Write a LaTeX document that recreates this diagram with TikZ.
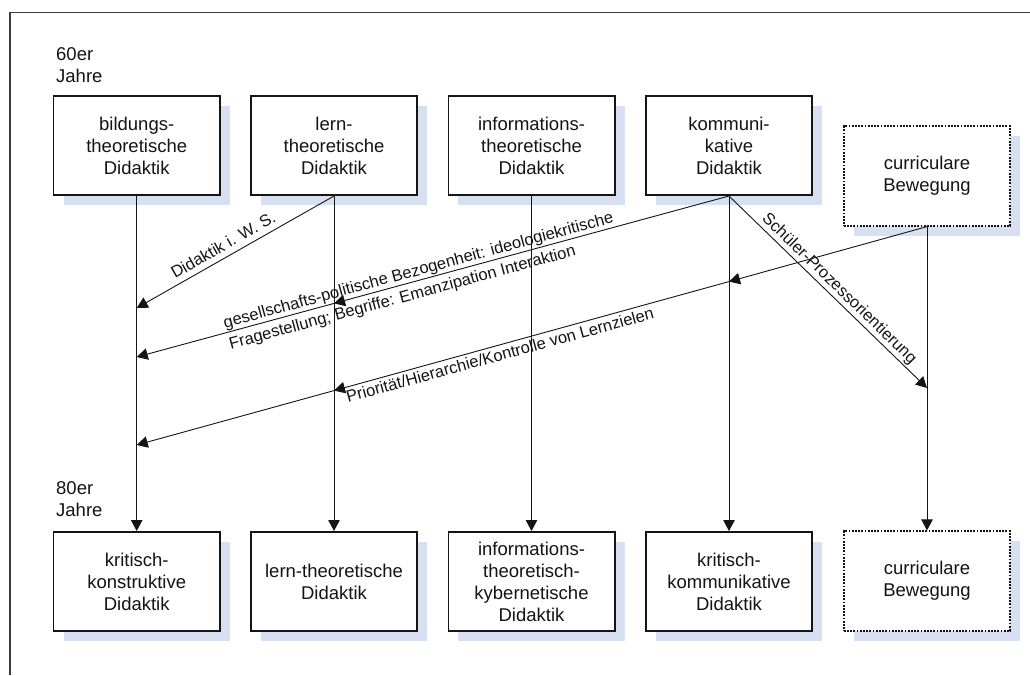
\documentclass[tikz,border=0pt]{standalone}
\usepackage{fontspec}
\setmainfont{Liberation Sans}
\usetikzlibrary{arrows.meta,shadows}
\definecolor{shadowblue}{RGB}{214,224,240}
\definecolor{framegray}{RGB}{60,60,60}
\definecolor{ink}{RGB}{20,20,20}

\begin{document}
\begin{tikzpicture}[x=1pt,y=-1pt,
  boxtext/.style={font=\fontsize{18.5}{22}\selectfont, text=ink, align=center},
  labeltext/.style={font=\fontsize{16.5}{22}\selectfont, text=ink, inner sep=0pt},
  stage/.style={boxtext, draw=ink, line width=1.6pt, fill=white,
    minimum width=166.4pt, minimum height=99.4pt, inner sep=0pt,
    general shadow={fill=shadowblue, shadow xshift=10pt, shadow yshift=-10pt}},
  openstage/.style={stage, line width=1.8pt, dash pattern=on 1.8pt off 1.4pt},
  flow/.style={draw=ink, line width=0.9pt, -{Triangle[length=11pt,width=11.5pt]}},
]
\useasboundingbox (0,0) rectangle (1030,675);

% page frame
\draw[framegray, line width=1.2pt] (1030,12.3) -- (10,12.3) -- (10,675);

% era captions
\node[boxtext, align=left, anchor=west, inner sep=0pt] (e60) at (56,65) {60er\\Jahre};
\node[boxtext, align=left, anchor=west, inner sep=0pt] (e80) at (56,499.5) {80er\\Jahre};

% approaches of the 60s
\node[stage] (b1) at (136.7,145.5) {bildungs-\\theoretische\\Didaktik};
\node[stage] (b2) at (334,145.5) {lern-\\theoretische\\Didaktik};
\node[stage] (b3) at (531.5,145.5) {informations-\\theoretische\\Didaktik};
\node[stage] (b4) at (729,145.5) {kommuni-\\kative\\Didaktik};
\node[openstage] (b5) at (927,176) {curriculare\\Bewegung};

% approaches of the 80s
\node[stage] (k1) at (136.7,581.5) {kritisch-\\konstruktive\\Didaktik};
\node[stage] (k2) at (334,581.5) {lern-theoretische\\Didaktik};
\node[stage] (k3) at (531.5,581.5) {informations-\\theoretisch-\\kybernetische\\Didaktik};
\node[stage] (k4) at (729,581.5) {kritisch-\\kommunikative\\Didaktik};
\node[openstage] (k5) at (927,581) {curriculare\\Bewegung};

% development lines
\foreach \i in {1,...,5} \draw[flow] (b\i.south) -- (k\i.north);

% influence points on the development lines
\coordinate (w1) at (136.7,308);
\coordinate (g2) at (334,303.4);
\coordinate (g1) at (136.7,357);
\coordinate (p4) at (729,281.6);
\coordinate (p2) at (334,390.6);
\coordinate (p1) at (136.7,445);
\coordinate (s5) at (927,388);

\draw[flow] (b2.south) -- (w1);
\draw[flow] (b4.south) -- (g2);
\draw[flow] (g2) -- (g1);
\draw[flow] (b5.south) -- (p4);
\draw[flow] (p4) -- (p2);
\draw[flow] (p2) -- (p1);
\draw[flow] (b4.south) -- (s5);

% influence labels
\node[labeltext, rotate=29.6, anchor=base] (l1) at (226,250) {Didaktik i. W. S.};
\node[labeltext, rotate=15.2, anchor=west, align=left] (l2) at (226.8,334.6)
  {gesellschafts-politische Bezogenheit: ideologiekritische\\Fragestellung; Begriffe: Emanzipation Interaktion};
\node[labeltext, rotate=15.4, anchor=base] (l3) at (501.5,360.5) {Priorität/Hierarchie/Kontrolle von Lernzielen};
\node[labeltext, rotate=-44.1, anchor=base] (l4) at (836,292) {Schüler-Prozessorientierung};
\end{tikzpicture}
\end{document}
